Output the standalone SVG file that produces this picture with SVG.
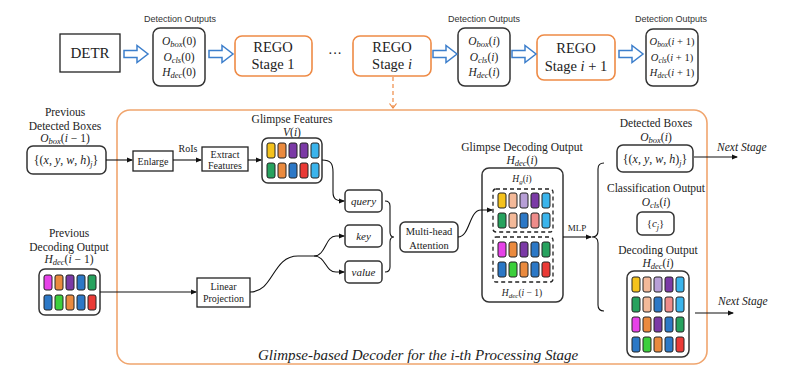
<svg xmlns="http://www.w3.org/2000/svg" width="800" height="378" viewBox="0 0 800 378">
  <style>
    .serif { font-family: "Liberation Serif", "DejaVu Serif", serif; fill: #222; }
    .sans { font-family: "Liberation Sans", "DejaVu Sans", sans-serif; fill: #333; }
    .it { font-style: italic; }
    .mid { text-anchor: middle; }
    .box { fill: #fff; stroke: #222; stroke-width: 1.3; }
    .rbox { fill: #fff; stroke: #333; stroke-width: 1.5; }
    .stage { fill: #fff; stroke: #ee8a45; stroke-width: 1.6; }
    .hollow { fill: #fff; stroke: #3d7fcc; stroke-width: 1.5; stroke-linejoin: miter; }
    .wire { fill: none; stroke: #111; stroke-width: 1.1; }
    .dash { fill: none; stroke: #222; stroke-width: 1.3; stroke-dasharray: 4 3; }
    .cell { stroke: #222; stroke-width: 1; }
    .y { fill: #f4c21c; } .o { fill: #ea8a3e; } .p { fill: #7b3aa6; } .b { fill: #2c78c6; }
    .lb { fill: #3ab4ec; } .g { fill: #27a25e; } .r { fill: #ea3a36; } .pk { fill: #ee8c8a; }
    .pc { fill: #f3b999; } .lv { fill: #b79fd6; } .m { fill: #e642e8; } .bg { fill: #3ccf3c; }
  </style>
  <defs>
    <marker id="ah" markerWidth="6" markerHeight="6" refX="5" refY="3" orient="auto" markerUnits="userSpaceOnUse">
      <path d="M0,0.5 L6,3 L0,5.5 Z" fill="#111"/>
    </marker>
    <marker id="oa" markerWidth="8" markerHeight="8" refX="4" refY="6" orient="0" markerUnits="userSpaceOnUse">
      <path d="M0.5,1.5 L4,6 L7.5,1.5" fill="none" stroke="#ee8a45" stroke-width="1.2"/>
    </marker>
    <path id="harrow" d="M0,-3.5 H13 V-8.5 L24,0 L13,8.5 V3.5 H0 Z"/>
    <g id="row5a">
      <rect class="cell y" x="0" y="0" width="8" height="15" rx="2"/>
      <rect class="cell pc" x="11" y="0" width="8" height="15" rx="2"/>
      <rect class="cell lv" x="22" y="0" width="8" height="15" rx="2"/>
      <rect class="cell p" x="33" y="0" width="8" height="15" rx="2"/>
      <rect class="cell lb" x="44" y="0" width="8" height="15" rx="2"/>
    </g>
    <g id="row5b">
      <rect class="cell g" x="0" y="0" width="8" height="15" rx="2"/>
      <rect class="cell pc" x="11" y="0" width="8" height="15" rx="2"/>
      <rect class="cell b" x="22" y="0" width="8" height="15" rx="2"/>
      <rect class="cell pk" x="33" y="0" width="8" height="15" rx="2"/>
      <rect class="cell lb" x="44" y="0" width="8" height="15" rx="2"/>
    </g>
    <g id="row5c">
      <rect class="cell m" x="0" y="0" width="8" height="15" rx="2"/>
      <rect class="cell o" x="11" y="0" width="8" height="15" rx="2"/>
      <rect class="cell p" x="22" y="0" width="8" height="15" rx="2"/>
      <rect class="cell b" x="33" y="0" width="8" height="15" rx="2"/>
      <rect class="cell g" x="44" y="0" width="8" height="15" rx="2"/>
    </g>
    <g id="row5d">
      <rect class="cell b" x="0" y="0" width="8" height="15" rx="2"/>
      <rect class="cell bg" x="11" y="0" width="8" height="15" rx="2"/>
      <rect class="cell o" x="22" y="0" width="8" height="15" rx="2"/>
      <rect class="cell b" x="33" y="0" width="8" height="15" rx="2"/>
      <rect class="cell r" x="44" y="0" width="8" height="15" rx="2"/>
    </g>
  </defs>

  <rect width="800" height="378" fill="#fff"/>

  <!-- top pipeline -->
  <g id="detr">
    <rect class="box" x="60" y="34" width="60" height="38" stroke-width="1.5"/>
    <text class="serif mid" x="90" y="58" font-size="15">DETR</text>
  </g>

  <g id="det-out-0">
    <text class="sans mid" x="180" y="22" font-size="9">Detection Outputs</text>
    <rect class="rbox" x="153" y="28" width="52" height="58" rx="7"/>
    <text class="serif mid" x="179" y="45" font-size="11.5"><tspan class="it">O</tspan><tspan class="it" font-size="8.5" dy="2">box</tspan><tspan dy="-2">(0)</tspan></text>
    <text class="serif mid" x="179" y="61" font-size="11.5"><tspan class="it">O</tspan><tspan class="it" font-size="8.5" dy="2">cls</tspan><tspan dy="-2">(0)</tspan></text>
    <text class="serif mid" x="179" y="76" font-size="11.5"><tspan class="it">H</tspan><tspan class="it" font-size="8.5" dy="2">dec</tspan><tspan dy="-2">(0)</tspan></text>
  </g>

  <g id="rego-1">
    <rect class="stage" x="235" y="36" width="77" height="40" rx="7"/>
    <text class="serif mid" x="273" y="52" font-size="14.5">REGO</text>
    <text class="serif mid" x="273" y="69" font-size="14.5">Stage 1</text>
  </g>

  <text class="serif mid" x="335" y="58" font-size="14">···</text>

  <g id="rego-i">
    <rect class="stage" x="353" y="36" width="78" height="40" rx="7"/>
    <text class="serif mid" x="392" y="52" font-size="14.5">REGO</text>
    <text class="serif mid" x="392" y="69" font-size="14.5">Stage <tspan class="it">i</tspan></text>
  </g>

  <g id="det-out-i">
    <text class="sans mid" x="484" y="22" font-size="9">Detection Outputs</text>
    <rect class="rbox" x="458" y="28" width="52" height="58" rx="7"/>
    <text class="serif mid" x="484" y="45" font-size="11.5"><tspan class="it">O</tspan><tspan class="it" font-size="8.5" dy="2">box</tspan><tspan dy="-2">(</tspan><tspan class="it">i</tspan>)</text>
    <text class="serif mid" x="484" y="61" font-size="11.5"><tspan class="it">O</tspan><tspan class="it" font-size="8.5" dy="2">cls</tspan><tspan dy="-2">(</tspan><tspan class="it">i</tspan>)</text>
    <text class="serif mid" x="484" y="76" font-size="11.5"><tspan class="it">H</tspan><tspan class="it" font-size="8.5" dy="2">dec</tspan><tspan dy="-2">(</tspan><tspan class="it">i</tspan>)</text>
  </g>

  <g id="rego-i1">
    <rect class="stage" x="537" y="35" width="78" height="45" rx="7"/>
    <text class="serif mid" x="576" y="53" font-size="14.5">REGO</text>
    <text class="serif mid" x="576" y="71" font-size="14.5">Stage <tspan class="it">i</tspan> + 1</text>
  </g>

  <g id="det-out-i1">
    <text class="sans mid" x="671" y="22" font-size="9">Detection Outputs</text>
    <rect class="rbox" x="646" y="29" width="52" height="57" rx="7"/>
    <text class="serif mid" x="672" y="45" font-size="10.5"><tspan class="it">O</tspan><tspan class="it" font-size="7.5" dy="2">box</tspan><tspan dy="-2">(</tspan><tspan class="it">i</tspan> + 1)</text>
    <text class="serif mid" x="672" y="61" font-size="10.5"><tspan class="it">O</tspan><tspan class="it" font-size="7.5" dy="2">cls</tspan><tspan dy="-2">(</tspan><tspan class="it">i</tspan> + 1)</text>
    <text class="serif mid" x="672" y="76" font-size="10.5"><tspan class="it">H</tspan><tspan class="it" font-size="7.5" dy="2">dec</tspan><tspan dy="-2">(</tspan><tspan class="it">i</tspan> + 1)</text>
  </g>

  <!-- decoder frame -->
  <g id="decoder-frame">
    <rect x="117" y="110" width="590" height="254" rx="13" fill="none" stroke="#f0a56e" stroke-width="1.6"/>
    <text class="serif it" x="258" y="360" font-size="15">Glimpse-based Decoder for the i-th Processing Stage</text>
  </g>

  <!-- decoder inputs -->
  <g id="prev-boxes">
    <text class="serif mid" x="65" y="116" font-size="11.5">Previous</text>
    <text class="serif mid" x="65" y="130" font-size="11.5">Detected Boxes</text>
    <text class="serif mid" x="65" y="142" font-size="11.5"><tspan class="it">O</tspan><tspan class="it" font-size="8.5" dy="2">box</tspan><tspan dy="-2">(</tspan><tspan class="it">i</tspan> − 1)</text>
    <rect class="rbox" x="27" y="146" width="79" height="28" rx="6"/>
    <text class="serif mid" x="66" y="164" font-size="12">{(<tspan class="it">x</tspan>, <tspan class="it">y</tspan>, <tspan class="it">w</tspan>, <tspan class="it">h</tspan>)<tspan class="it" font-size="8" dy="3">j</tspan><tspan dy="-3">}</tspan></text>
  </g>

  <g id="prev-decoding">
    <text class="serif mid" x="69" y="237" font-size="11.5">Previous</text>
    <text class="serif mid" x="69" y="251" font-size="11.5">Decoding Output</text>
    <text class="serif mid" x="69" y="263" font-size="11.5"><tspan class="it">H</tspan><tspan class="it" font-size="8.5" dy="2">dec</tspan><tspan dy="-2">(</tspan><tspan class="it">i</tspan> − 1)</text>
    <rect class="rbox" x="39" y="269" width="61" height="46" rx="6"/>
    <use href="#row5c" x="44" y="275"/>
    <use href="#row5d" x="44" y="295"/>
  </g>

  <g id="enlarge">
    <rect class="box" x="133" y="151" width="40" height="20"/>
    <text class="serif mid" x="153" y="164.5" font-size="10">Enlarge</text>
  </g>

  <text class="serif mid" x="188" y="152" font-size="10">RoIs</text>

  <g id="extract">
    <rect class="box" x="202" y="147" width="46" height="24"/>
    <text class="serif mid" x="225" y="157.5" font-size="10">Extract</text>
    <text class="serif mid" x="225" y="168.5" font-size="10">Features</text>
  </g>

  <g id="glimpse-features">
    <text class="serif mid" x="292" y="123" font-size="11.5">Glimpse Features</text>
    <text class="serif mid" x="292" y="135.5" font-size="11.5"><tspan class="it">V</tspan>(<tspan class="it">i</tspan>)</text>
    <rect class="rbox" x="262" y="138" width="60" height="45" rx="6"/>
    <g transform="translate(267,143)">
      <rect class="cell y" x="0" y="0" width="8" height="15" rx="2"/>
      <rect class="cell o" x="11" y="0" width="8" height="15" rx="2"/>
      <rect class="cell p" x="22" y="0" width="8" height="15" rx="2"/>
      <rect class="cell p" x="33" y="0" width="8" height="15" rx="2"/>
      <rect class="cell lb" x="44" y="0" width="8" height="15" rx="2"/>
    </g>
    <g transform="translate(267,163)">
      <rect class="cell g" x="0" y="0" width="8" height="15" rx="2"/>
      <rect class="cell o" x="11" y="0" width="8" height="15" rx="2"/>
      <rect class="cell b" x="22" y="0" width="8" height="15" rx="2"/>
      <rect class="cell r" x="33" y="0" width="8" height="15" rx="2"/>
      <rect class="cell lb" x="44" y="0" width="8" height="15" rx="2"/>
    </g>
  </g>

  <g id="linear-projection">
    <rect class="box" x="197" y="278" width="53" height="29"/>
    <text class="serif mid" x="223.5" y="290" font-size="10">Linear</text>
    <text class="serif mid" x="223.5" y="302" font-size="10">Projection</text>
  </g>

  <g id="query">
    <rect class="rbox" x="345" y="190" width="37" height="22" rx="4"/>
    <text class="serif it mid" x="363.5" y="205" font-size="11">query</text>
  </g>
  <g id="key">
    <rect class="rbox" x="345" y="225" width="37" height="22" rx="4"/>
    <text class="serif it mid" x="363.5" y="240" font-size="11">key</text>
  </g>
  <g id="value">
    <rect class="rbox" x="345" y="261" width="37" height="22" rx="4"/>
    <text class="serif it mid" x="363.5" y="276" font-size="11">value</text>
  </g>

  <g id="attention">
    <rect class="rbox" x="400" y="222" width="58" height="30" rx="5"/>
    <text class="serif mid" x="429" y="235" font-size="10.5">Multi-head</text>
    <text class="serif mid" x="429" y="248.5" font-size="10.5">Attention</text>
  </g>

  <g id="glimpse-decoding">
    <text class="serif mid" x="522" y="151" font-size="11.5">Glimpse Decoding Output</text>
    <text class="serif mid" x="522" y="164" font-size="11.5"><tspan class="it">H</tspan><tspan class="it" font-size="8.5" dy="2">dec</tspan><tspan dy="-2">(</tspan><tspan class="it">i</tspan>)</text>
    <rect class="rbox" x="482" y="168" width="81" height="134" rx="7"/>
    <text class="serif mid" x="522" y="182" font-size="9.5"><tspan class="it">H</tspan><tspan class="it" font-size="7" dy="1.5">g</tspan><tspan dy="-1.5">(</tspan><tspan class="it">i</tspan>)</text>
    <rect class="dash" x="493" y="189" width="60" height="43" rx="3"/>
    <use href="#row5a" x="498" y="193"/>
    <use href="#row5b" x="498" y="213"/>
    <rect class="dash" x="493" y="237" width="60" height="45" rx="3"/>
    <use href="#row5c" x="498" y="242"/>
    <use href="#row5d" x="498" y="262"/>
    <text class="serif mid" x="522" y="296" font-size="9.5"><tspan class="it">H</tspan><tspan class="it" font-size="7" dy="1.5">dec</tspan><tspan dy="-1.5">(</tspan><tspan class="it">i</tspan> − 1)</text>
  </g>

  <text class="serif mid" x="577" y="231" font-size="9">MLP</text>

  <!-- stage outputs -->
  <g id="detected-boxes">
    <text class="serif mid" x="656" y="127" font-size="11.5">Detected Boxes</text>
    <text class="serif mid" x="656" y="141" font-size="11.5"><tspan class="it">O</tspan><tspan class="it" font-size="8.5" dy="2">box</tspan><tspan dy="-2">(</tspan><tspan class="it">i</tspan>)</text>
    <rect class="rbox" x="617" y="145" width="76" height="27" rx="6"/>
    <text class="serif mid" x="655" y="163" font-size="12">{(<tspan class="it">x</tspan>, <tspan class="it">y</tspan>, <tspan class="it">w</tspan>, <tspan class="it">h</tspan>)<tspan class="it" font-size="8" dy="3">j</tspan><tspan dy="-3">}</tspan></text>
  </g>

  <g id="classification">
    <text class="serif mid" x="656" y="192" font-size="11.5">Classification Output</text>
    <text class="serif mid" x="656" y="206" font-size="11.5"><tspan class="it">O</tspan><tspan class="it" font-size="8.5" dy="2">cls</tspan><tspan dy="-2">(</tspan><tspan class="it">i</tspan>)</text>
    <rect class="rbox" x="637" y="212" width="37" height="23" rx="5"/>
    <text class="serif mid" x="655.5" y="227" font-size="11">{<tspan class="it">c</tspan><tspan class="it" font-size="8" dy="3">j</tspan><tspan dy="-3">}</tspan></text>
  </g>

  <g id="decoding-output">
    <text class="serif mid" x="658" y="254" font-size="11.5">Decoding Output</text>
    <text class="serif mid" x="658" y="267" font-size="11.5"><tspan class="it">H</tspan><tspan class="it" font-size="8.5" dy="2">dec</tspan><tspan dy="-2">(</tspan><tspan class="it">i</tspan>)</text>
    <rect class="rbox" x="627" y="271" width="62" height="86" rx="7"/>
    <use href="#row5a" x="632" y="277"/>
    <use href="#row5b" x="632" y="297"/>
    <use href="#row5c" x="632" y="317"/>
    <use href="#row5d" x="632" y="337"/>
  </g>

  <text class="serif it" x="717" y="151" font-size="11.5">Next Stage</text>
  <text class="serif it" x="718" y="305" font-size="11.5">Next Stage</text>

  <!-- connectors -->
  <g id="connectors">
    <use href="#harrow" class="hollow" x="124" y="54"/>
    <use href="#harrow" class="hollow" x="209" y="54"/>
    <use href="#harrow" class="hollow" x="433" y="54"/>
    <use href="#harrow" class="hollow" x="512" y="54"/>
    <use href="#harrow" class="hollow" x="619" y="54"/>

    <path d="M393,77 V108" fill="none" stroke="#ee8a45" stroke-width="1.2" stroke-dasharray="4 3" marker-end="url(#oa)"/>

    <path class="wire" d="M106,160 H132" marker-end="url(#ah)"/>
    <path class="wire" d="M173,160 H201" marker-end="url(#ah)"/>
    <path class="wire" d="M248,160 H261" marker-end="url(#ah)"/>
    <path class="wire" d="M322,160 C331,160 333,164 333,172 V192 C333,199 336,201 344,201" marker-end="url(#ah)"/>

    <path class="wire" d="M100,292 H196" marker-end="url(#ah)"/>
    <path class="wire" d="M250,292 C274,292 272,256 298,256 L314,256"/>
    <path class="wire" d="M314,256 C326,256 325,236 336,236 L344,236" marker-end="url(#ah)"/>
    <path class="wire" d="M314,256 C326,256 325,272 336,272 L344,272" marker-end="url(#ah)"/>

    <path class="wire" d="M385,201 Q390,201 390,206 V232 Q390,237 394,237 Q390,237 390,242 V267 Q390,272 385,272"/>

    <path class="wire" d="M458,237 C470,237 469,210 481,210 L492,210" marker-end="url(#ah)"/>

    <path class="wire" d="M563,237 H591" marker-end="url(#ah)"/>
    <path class="wire" d="M604,163 Q598,163 598,169 V231 Q598,237 592,237 Q598,237 598,243 V305 Q598,311 604,311"/>

    <path class="wire" d="M694,157 H737" marker-end="url(#ah)"/>
    <path class="wire" d="M695,313 H733" marker-end="url(#ah)"/>
  </g>
</svg>
